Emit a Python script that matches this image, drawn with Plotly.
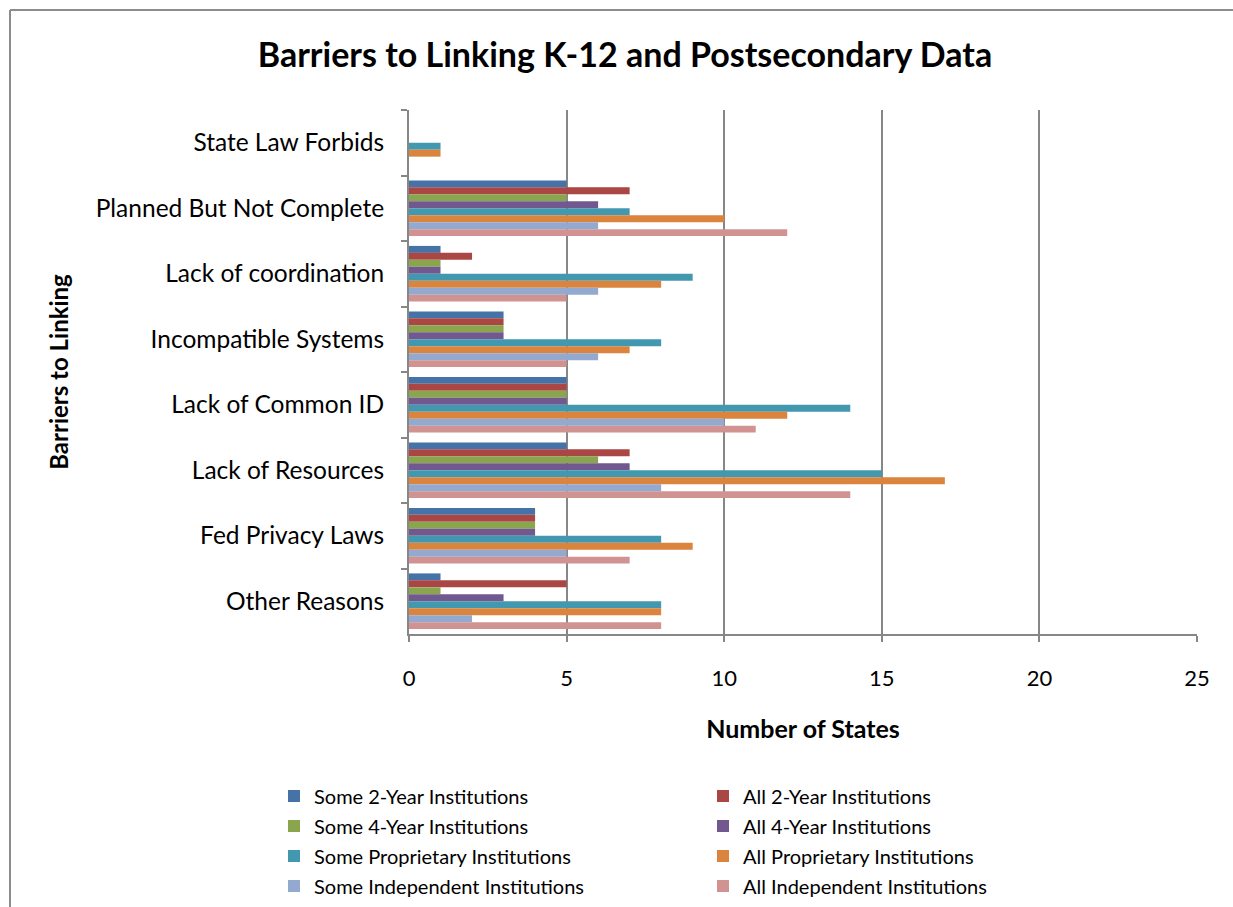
import plotly.graph_objects as go

categories = ["State Law Forbids", "Planned But Not Complete", "Lack of coordination",
              "Incompatible Systems", "Lack of Common ID", "Lack of Resources",
              "Fed Privacy Laws", "Other Reasons"]

series_names = ["Some 2-Year Institutions", "All 2-Year Institutions",
                "Some 4-Year Institutions", "All 4-Year Institutions",
                "Some Proprietary Institutions", "All Proprietary Institutions",
                "Some Independent Institutions", "All Independent Institutions"]

some_2yr = [0, 5, 1, 3, 5, 5, 4, 1]
all_2yr = [0, 7, 2, 3, 5, 7, 4, 5]
some_4yr = [0, 5, 1, 3, 5, 6, 4, 1]
all_4yr = [0, 6, 1, 3, 5, 7, 4, 3]
some_prop = [1, 7, 9, 8, 14, 15, 8, 8]
all_prop = [1, 10, 8, 7, 12, 17, 9, 8]
some_ind = [0, 6, 6, 6, 10, 8, 5, 2]
all_ind = [0, 12, 5, 5, 11, 14, 7, 8]

series_values = [some_2yr, all_2yr, some_4yr, all_4yr, some_prop, all_prop, some_ind, all_ind]
colors = ["#4572A7", "#AA4643", "#89A54E", "#71588F", "#4198AF", "#DB843D", "#93A9CF", "#D19392"]

x_ticks = [0, 5, 10, 15, 20, 25]

FONT = "Lato"
W, H = 1233, 907
L, R, T, B = 409, 36, 110, 273
PW, PH = W - L - R, H - T - B

legend_names = ["legend", "legend2", "legend3", "legend4"]

fig = go.Figure()
for i, (name, vals) in enumerate(zip(series_names, series_values)):
    fig.add_trace(go.Bar(
        y=categories, x=vals, name=name, orientation="h",
        marker=dict(color=colors[i], line=dict(width=0)),
        legend=legend_names[i // 2],
    ))

def px_to_paper_x(px):
    return (px - L) / PW

def px_to_paper_y(py):
    return 1 - (py - T) / PH

row_centers = [796, 826, 856, 886]
legend_layout = {}
for k, ln in enumerate(legend_names):
    legend_layout[ln] = dict(
        orientation="h", x=px_to_paper_x(274), xanchor="left",
        y=px_to_paper_y(row_centers[k]), yanchor="middle",
        entrywidth=384, entrywidthmode="pixels",
        font=dict(family=FONT, size=20, color="#000000"),
        bgcolor="rgba(0,0,0,0)", traceorder="normal",
    )

grid_col = "#878787"
fig.update_layout(
    width=W, height=H,
    margin=dict(l=L, r=R, t=T, b=B, autoexpand=False),
    paper_bgcolor="white", plot_bgcolor="white",
    barmode="group", bargap=0.15, bargroupgap=0,
    title=dict(text="<b>Barriers to Linking K-12 and Postsecondary Data</b>",
               x=625 / W, xanchor="center", xref="container",
               y=1 - 55 / H, yanchor="middle", yref="container",
               font=dict(family=FONT, size=34, color="#000000")),
    font=dict(family=FONT, color="#000000"),
    xaxis=dict(range=[0, 25], tickvals=x_ticks, showgrid=True, gridcolor=grid_col, gridwidth=2,
               showline=True, linecolor=grid_col, linewidth=2, zeroline=False,
               ticks="outside", ticklen=6, tickcolor=grid_col, tickwidth=2,
               ticklabelstandoff=18,
               tickfont=dict(family=FONT, size=22, color="#000000"),
               title=dict(text="<b>Number of States</b>", standoff=30,
                          font=dict(family=FONT, size=25, color="#000000"))),
    yaxis=dict(autorange="reversed", showgrid=False, showline=True, linecolor=grid_col, linewidth=2,
               ticks="outside", ticklen=6, tickcolor=grid_col, tickwidth=2, tickson="boundaries",
               ticklabelstandoff=18,
               tickfont=dict(family=FONT, size=24.5, color="#000000"),
               title=dict(text="<b>Barriers to Linking</b>", standoff=20,
                          font=dict(family=FONT, size=24, color="#000000"))),
    showlegend=True,
    **legend_layout,
    shapes=[
        dict(type="line", xref="paper", yref="paper",
             x0=px_to_paper_x(10), x1=px_to_paper_x(W + 5), y0=px_to_paper_y(10), y1=px_to_paper_y(10),
             line=dict(color="#8c8c8c", width=2)),
        dict(type="line", xref="paper", yref="paper",
             x0=px_to_paper_x(10), x1=px_to_paper_x(10), y0=px_to_paper_y(10), y1=px_to_paper_y(H + 5),
             line=dict(color="#8c8c8c", width=2)),
    ],
)

fig.write_html("out.html", config={"displayModeBar": False},
               post_script="document.body.style.margin='0px';")
